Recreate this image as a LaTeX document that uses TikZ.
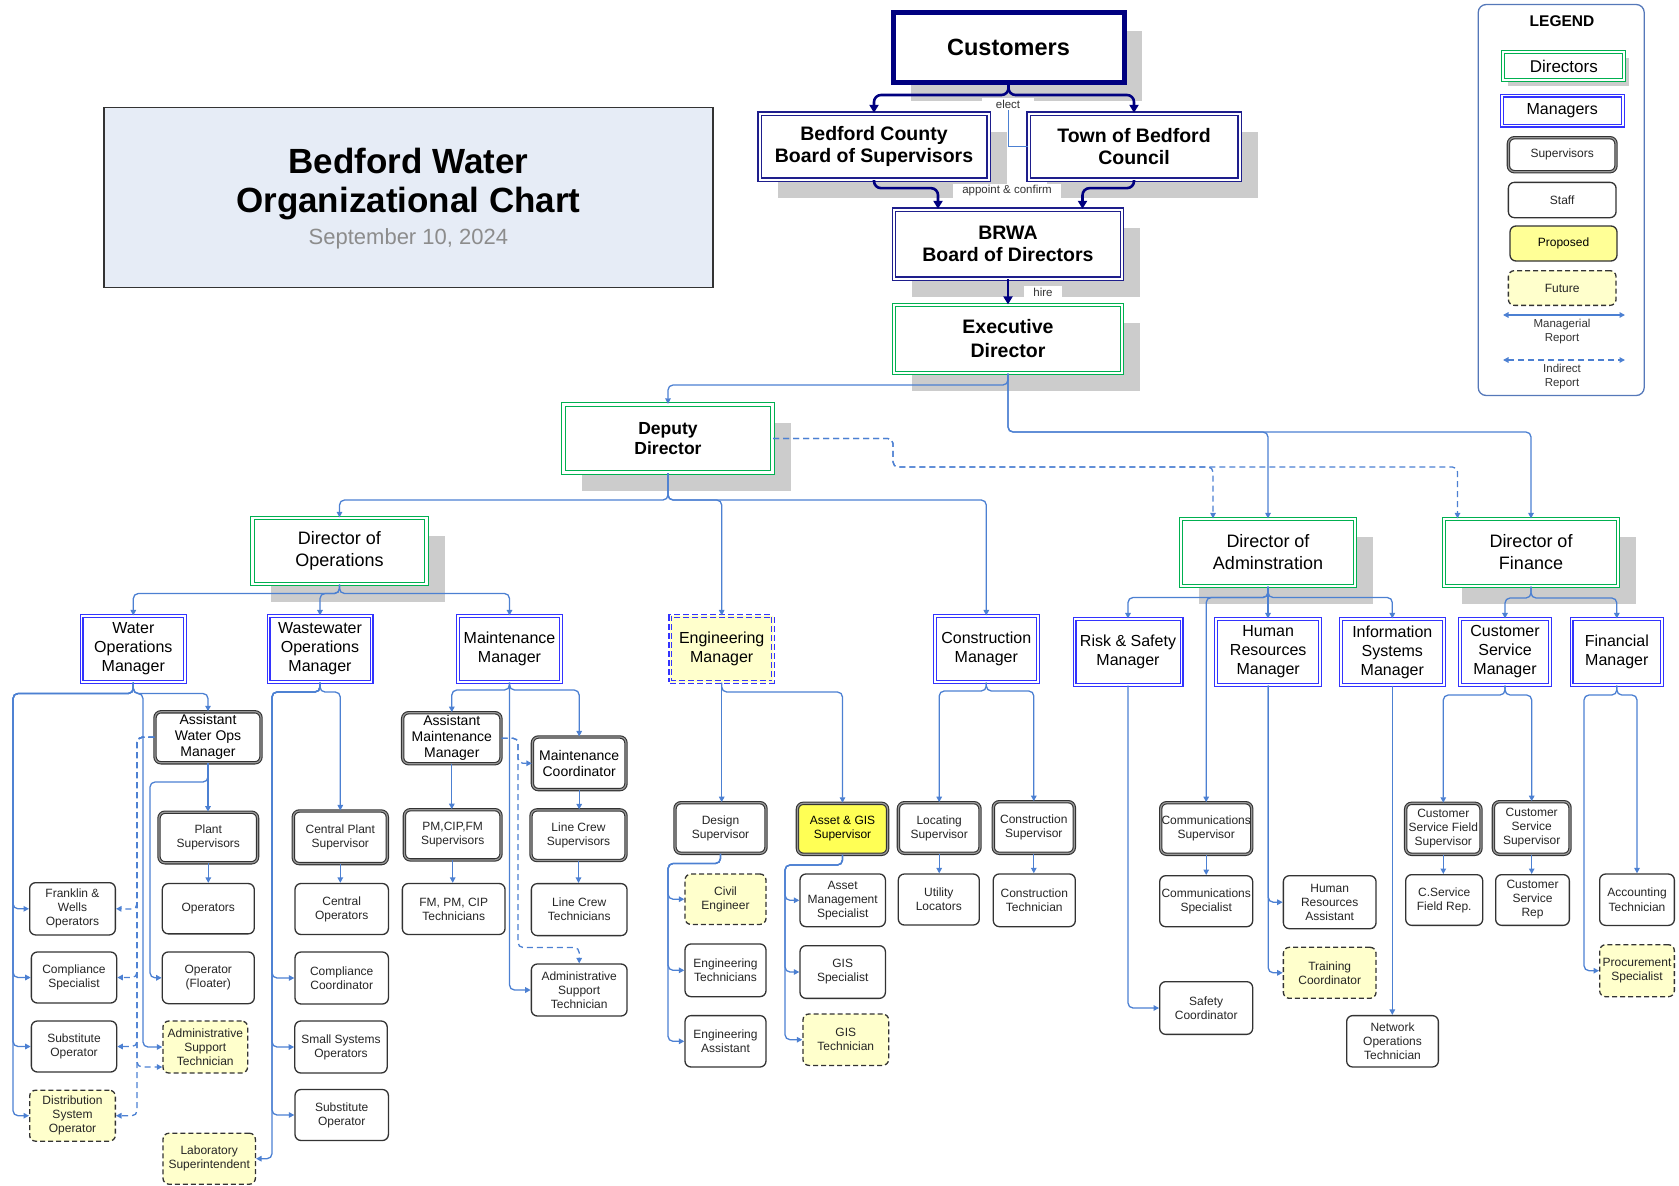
\documentclass[tikz,border=0pt]{standalone}
\usepackage{fontspec}
\setmainfont{Liberation Sans}
\usetikzlibrary{arrows.meta,shadows}

\definecolor{navy}{RGB}{0,0,128}
\definecolor{brdnavy}{RGB}{30,30,140}
\definecolor{mgrblue}{RGB}{51,51,255}
\definecolor{dirgreen}{RGB}{0,176,80}
\definecolor{repblue}{RGB}{76,128,210}
\definecolor{shadowgray}{RGB}{204,204,204}
\definecolor{propyellow}{RGB}{255,255,85}
\definecolor{lgdyellow}{RGB}{255,255,150}
\definecolor{futyellow}{RGB}{255,255,204}
\definecolor{titlefill}{RGB}{230,236,246}
\definecolor{lgdline}{RGB}{85,120,185}

\begin{document}
\begin{tikzpicture}[x=1pt,y=-1pt,>={Triangle[length=5.5pt,width=5.5pt]},
    sz/.style 2 args={minimum width=#1pt,minimum height=#2pt},
    box/.style={rectangle,inner sep=0pt,align=center,fill=white},
    shd/.style={drop shadow={shadow xshift=18pt,shadow yshift=-18pt,fill=shadowgray,opacity=1}},
    cust/.style={box,shd,draw=navy,line width=5pt,font=\bfseries\fontsize{23.5}{28}\selectfont},
    board/.style={box,shd,draw=brdnavy,double=white,double distance=2pt,line width=1.3pt,font=\bfseries\fontsize{19.5}{22.5}\selectfont},
    dir/.style={box,shd,draw=dirgreen,double=white,double distance=2.2pt,line width=1.2pt,font=\fontsize{18}{22}\selectfont},
    mgr/.style={box,draw=mgrblue,double=white,double distance=1.8pt,line width=1.1pt,font=\fontsize{16}{19}\selectfont},
    sup/.style={box,rounded corners=6pt,draw=black!80,double=black!40,double distance=1.2pt,line width=1.1pt,text=black!85,font=\fontsize{12}{14}\selectfont},
    bigsup/.style={sup,text=black,font=\fontsize{14}{16}\selectfont},
    staff/.style={box,rounded corners=6pt,draw=black!80,line width=1.3pt,text=black!85,font=\fontsize{12}{14}\selectfont},
    fut/.style={staff,fill=futyellow,dash pattern=on 5pt off 3pt},
    rep/.style={draw=repblue,line width=1.3pt,rounded corners=5pt,->},
    ind/.style={rep,dash pattern=on 6pt off 4pt},
    tops/.style={draw=navy,line width=2.6pt,rounded corners=7pt,-{Triangle[length=8pt,width=9pt]}},
    lnk/.style={draw=repblue,line width=1pt},
    lbl/.style={fill=white,inner xsep=9pt,inner ysep=2pt,text=black!80,font=\fontsize{11.5}{13}\selectfont},
    lgtxt/.style={align=center,inner sep=0pt,text=black!80,font=\fontsize{11.5}{14}\selectfont}]
\useasboundingbox (0,0) rectangle (1679,1186);

\node[draw=black!80,line width=1.2pt,fill=titlefill,inner sep=0pt,sz={609}{180}] (title) at (408.4,197.8) {};
\node[align=center,font=\bfseries\fontsize{35}{39}\selectfont] (ttl) at (408.4,184) {Bedford Water\\Organizational Chart};
\node[text=black!45,font=\fontsize{22}{26}\selectfont] (tdate) at (408.4,239) {September 10, 2024};

\node[cust,sz={231}{70}] (cust) at (1008.5,47.5) {Customers};
\node[board,sz={229}{66}] (bcbs) at (874,146.5) {Bedford County\\Board of Supervisors};
\node[board,sz={211}{66}] (tobc) at (1134,146.5) {Town of Bedford\\Council};
\node[board,sz={228}{69}] (brwa) at (1008,244) {BRWA\\Board of Directors};
\node[dir,sz={228}{68},font=\bfseries\fontsize{19.5}{24}\selectfont] (exec) at (1008,339) {Executive\\Director};
\node[dir,sz={209}{68},font=\bfseries\fontsize{17.5}{20.5}\selectfont] (deputy) at (668,438.5) {Deputy\\Director};

\node[dir,sz={174}{66}] (dops) at (339.5,551) {Director of\\Operations};
\node[dir,sz={174}{67}] (dadm) at (1268,552.5) {Director of\\Adminstration};
\node[dir,sz={174}{67}] (dfin) at (1531,552.5) {Director of\\Finance};

\node[mgr,sz={103.5}{66}] (wom) at (133.3,649) {Water\\Operations\\Manager};
\node[mgr,sz={103}{66}] (wwom) at (320,649) {Wastewater\\Operations\\Manager};
\node[mgr,sz={103.5}{66}] (mm) at (509.5,649) {Maintenance\\Manager};
\node[mgr,fill=futyellow,double=futyellow,dash pattern=on 6pt off 3pt,sz={102.5}{66}] (em) at (721.7,649) {Engineering\\Manager};
\node[mgr,sz={103}{66}] (cm) at (986.3,649) {Construction\\Manager};
\node[mgr,sz={107}{66}] (rsm) at (1128,652) {Risk \& Safety\\Manager};
\node[mgr,sz={104}{66}] (hrm) at (1268.2,652) {Human\\Resources\\Manager};
\node[mgr,sz={103}{66}] (ism) at (1392.3,652) {Information\\Systems\\Manager};
\node[mgr,sz={90}{66}] (csm) at (1505,652) {Customer\\Service\\Manager};
\node[mgr,sz={90.5}{66}] (fm) at (1616.8,652) {Financial\\Manager};

\node[bigsup,sz={106}{51}] (awom) at (208,737.3) {Assistant\\Water Ops\\Manager};
\node[sup,sz={98.6}{50.6}] (plsup) at (208.3,837.5) {Plant\\Supervisors};
\node[staff,sz={92}{50.3}] (oper) at (208.3,908.7) {Operators};
\node[staff,sz={92}{51.7}] (floater) at (208.3,977.8) {Operator\\(Floater)};
\node[fut,sz={84.7}{52}] (astw) at (205.3,1047) {Administrative\\Support\\Technician};
\node[fut,sz={92.4}{51}] (labsup) at (209.2,1158.7) {Laboratory\\Superintendent};
\node[staff,sz={85.7}{52.3}] (fwo) at (72.5,908.8) {Franklin \&\\Wells\\Operators};
\node[staff,sz={85.3}{51}] (cspec) at (74,977.5) {Compliance\\Specialist};
\node[staff,sz={85.3}{51}] (subop) at (74,1046.5) {Substitute\\Operator};
\node[fut,sz={85.7}{51}] (dso) at (72.5,1115.7) {Distribution\\System\\Operator};

\node[sup,sz={94}{52.6}] (cpsup) at (340.3,837.3) {Central Plant\\Supervisor};
\node[staff,sz={93.4}{51}] (cop) at (341.7,909) {Central\\Operators};
\node[staff,sz={93.4}{52}] (ccoord) at (341.7,978) {Compliance\\Coordinator};
\node[staff,sz={92.4}{52}] (sso) at (341,1047) {Small Systems\\Operators};
\node[staff,sz={93.4}{51}] (subopb) at (341.7,1115) {Substitute\\Operator};

\node[bigsup,sz={98.3}{51}] (amm) at (451.8,738.2) {Assistant\\Maintenance\\Manager};
\node[sup,sz={96.6}{50.2}] (pmsup) at (452.7,834.8) {PM,CIP,FM\\Supervisors};
\node[staff,sz={102.7}{51}] (pmtech) at (453.7,909) {FM, PM, CIP\\Technicians};
\node[bigsup,sz={93.6}{52.6}] (mcoord) at (579.2,763.3) {Maintenance\\Coordinator};
\node[sup,sz={95}{50.6}] (lcsup) at (578.5,835.2) {Line Crew\\Supervisors};
\node[staff,sz={95.7}{52}] (lctech) at (579.2,909.6) {Line Crew\\Technicians};
\node[staff,sz={95.7}{52}] (astm) at (579.2,990) {Administrative\\Support\\Technician};

\node[sup,sz={91}{50.6}] (dsup) at (720.5,828) {Design\\Supervisor};
\node[fut,sz={81}{50.4}] (ceng) at (725.5,899.2) {Civil\\Engineer};
\node[staff,sz={81}{52.7}] (etech) at (725.5,970.3) {Engineering\\Technicians};
\node[staff,sz={81}{51.4}] (eassist) at (725.5,1041.3) {Engineering\\Assistant};
\node[sup,fill=propyellow,text=black,sz={90.2}{51}] (agsup) at (842.5,828.8) {Asset \& GIS\\Supervisor};
\node[staff,sz={85.4}{52.7}] (amspec) at (842.7,900.3) {Asset\\Management\\Specialist};
\node[staff,sz={85.4}{52.7}] (gisspec) at (842.7,972) {GIS\\Specialist};
\node[fut,sz={85.7}{51.4}] (gistech) at (845.8,1039.7) {GIS\\Technician};

\node[sup,sz={81.6}{50.6}] (locsup) at (939.2,828) {Locating\\Supervisor};
\node[staff,sz={81}{51}] (utloc) at (938.8,899.5) {Utility\\Locators};
\node[sup,sz={81}{51.6}] (consup) at (1033.8,827.5) {Construction\\Supervisor};
\node[staff,sz={82}{52.7}] (contech) at (1034.3,900.3) {Construction\\Technician};

\node[sup,sz={91}{51.6}] (commsup) at (1206.2,828.5) {Communications\\Supervisor};
\node[staff,sz={93}{51}] (commspec) at (1206.2,901.2) {Communications\\Specialist};
\node[staff,sz={93}{52.7}] (safety) at (1206.2,1008) {Safety\\Coordinator};
\node[staff,sz={92.7}{53}] (hrasst) at (1329.7,902.2) {Human\\Resources\\Assistant};
\node[fut,sz={92.7}{51}] (trcoord) at (1329.7,972.8) {Training\\Coordinator};
\node[staff,sz={91.7}{51.4}] (nettech) at (1392.5,1041.3) {Network\\Operations\\Technician};

\node[sup,sz={75.3}{51}] (csfsup) at (1443.3,828.8) {Customer\\Service Field\\Supervisor};
\node[staff,sz={77}{50.7}] (csfrep) at (1444.2,900) {C.Service\\Field Rep.};
\node[sup,sz={76.6}{52.6}] (cssup) at (1531.7,828) {Customer\\Service\\Supervisor};
\node[staff,sz={73.7}{50.7}] (csrep) at (1532.5,900) {Customer\\Service\\Rep};
\node[staff,sz={74.7}{51.4}] (acctech) at (1637,899.7) {Accounting\\Technician};
\node[fut,sz={74.7}{52}] (procspec) at (1637,970.7) {Procurement\\Specialist};

\node[draw=lgdline,line width=1.3pt,rounded corners=8pt,inner sep=0pt,sz={166}{391}] (legend) at (1561.2,200) {};
\node[font=\bfseries\fontsize{15.5}{18}\selectfont] (lgdttl) at (1562,21) {LEGEND};
\node[box,draw=dirgreen,double=white,double distance=2pt,line width=1.1pt,drop shadow={shadow xshift=5pt,shadow yshift=-6pt,fill=shadowgray,opacity=1},sz={121}{28},font=\fontsize{17}{20}\selectfont] (lgdir) at (1563.8,66.3) {Directors};
\node[mgr,sz={121}{30}] (lgmgr) at (1562.2,110.5) {Managers};
\node[sup,sz={107.6}{34}] (lgsup) at (1562.2,154.7) {Supervisors};
\node[staff,sz={107.7}{35.3}] (lgstaff) at (1562.2,200) {Staff};
\node[staff,fill=lgdyellow,text=black,sz={107}{35}] (lgprop) at (1563.5,243.5) {Proposed};
\node[fut,sz={107.7}{34.7}] (lgfut) at (1562.2,288) {Future};
\coordinate (lgm1) at (1503,315);
\coordinate (lgm2) at (1625,315);
\coordinate (lgi1) at (1503,360);
\coordinate (lgi2) at (1625,360);
\draw[rep,<->] (lgm1) -- (lgm2);
\draw[ind,<->] (lgi1) -- (lgi2);
\node[lgtxt] (lgmtxt) at (1562,332) {Managerial\\Report};
\node[lgtxt] (lgitxt) at (1562,377) {Indirect\\Report};

\draw[tops] (cust.south) -- ++(0,10) -| (bcbs.north);
\draw[tops] (cust.south) -- ++(0,10) -| (tobc.north);
\draw[tops] (bcbs.south) -- ++(0,8) -| ([xshift=-70pt]brwa.north);
\draw[tops] (tobc.south) -- ++(0,8) -| ([xshift=74.5pt]brwa.north);
\draw[tops] (brwa.south) -- (exec.north);

\node[lbl,inner xsep=14pt] (elect) at (1008,104) {elect};
\node[lbl] (appoint) at (1007,191) {appoint \& confirm};
\node[lbl] (hire) at (1043,292.5) {hire};
\draw[lnk] (elect.south) |- (tobc.west);

\draw[rep] (exec.south) -- (exec.south |- 0,385) -| (deputy.north);
\draw[rep] (exec.south) -- (exec.south |- 0,432) -| (dadm.north);
\draw[rep] (exec.south) -- (exec.south |- 0,432) -| (dfin.north);

\draw[ind] (deputy.east) -| (893,467) -| ([xshift=-55pt]dadm.north);
\draw[ind] (deputy.east) -| (893,467) -| ([xshift=-73.5pt]dfin.north);

\draw[rep] (deputy.south) -- (deputy.south |- 0,500) -| (dops.north);
\draw[rep] (deputy.south) -- (deputy.south |- 0,500) -| (em.north);
\draw[rep] (deputy.south) -- (deputy.south |- 0,500) -| (cm.north);

\draw[rep] (dops.south) -- (dops.south |- 0,593.5) -| (wom.north);
\draw[rep] (dops.south) -- (dops.south |- 0,593.5) -| (wwom.north);
\draw[rep] (dops.south) -- (dops.south |- 0,593.5) -| (mm.north);

\draw[rep] (dadm.south) -- (dadm.south |- 0,597.5) -| (rsm.north);
\draw[rep] (dadm.south) -- (dadm.south |- hrm.north);
\draw[rep] (dadm.south) -- (dadm.south |- 0,597.5) -| (ism.north);
\draw[rep] (dadm.south) -- (dadm.south |- 0,597.5) -| (commsup.north);

\draw[rep] (dfin.south) -- (dfin.south |- 0,598) -| (csm.north);
\draw[rep] (dfin.south) -- (dfin.south |- 0,598) -| (fm.north);

\draw[rep] (wom.south) -- (wom.south |- 0,693.5) -| (awom.north);
\draw[rep] (wom.south) |- (13,693.5) |- (fwo.west);
\draw[rep] (wom.south) |- (13,693.5) |- (cspec.west);
\draw[rep] (wom.south) |- (13,693.5) |- (subop.west);
\draw[rep] (wom.south) |- (13,693.5) |- (dso.west);
\draw[rep] (wom.south) |- (143,693.5) |- (astw.west);
\draw[rep] (awom.south) -- (awom.south |- plsup.north);
\draw[rep] (awom.south) |- (150,782) |- (floater.west);
\draw[rep] (plsup.south) -- (plsup.south |- oper.north);
\draw[ind] (awom.west) -| (137,909) -- (fwo.east);
\draw[ind] (awom.west) -| (137,977.5) -- (cspec.east);
\draw[ind] (awom.west) -| (137,1046.5) -- (subop.east);
\draw[ind] (awom.west) -| (137,1115.7) -- (dso.east);
\draw[ind] (awom.west) -| (137,1067) -- (astw.west |- 0,1067);

\draw[rep] (wwom.south) -- (wwom.south |- 0,692) -| (cpsup.north);
\draw[rep] (wwom.south) |- (272,692) |- (ccoord.west);
\draw[rep] (wwom.south) |- (272,692) |- (sso.west);
\draw[rep] (wwom.south) |- (272,692) |- (subopb.west);
\draw[rep] (wwom.south) |- (272,692) |- (labsup.east);
\draw[rep] (cpsup.south) -- (cpsup.south |- cop.north);

\draw[rep] (mm.south) -- (mm.south |- 0,690) -| (amm.north);
\draw[rep] (mm.south) -- (mm.south |- 0,690) -| (mcoord.north);
\draw[rep] (mm.south) |- (astm.west);
\draw[rep] (amm.south) -- (amm.south |- pmsup.north);
\draw[rep] (pmsup.south) -- (pmsup.south |- pmtech.north);
\draw[rep] (mcoord.south) -- (mcoord.south |- lcsup.north);
\draw[rep] (lcsup.south) -- (lcsup.south |- lctech.north);
\draw[ind] (amm.east) -| (518,763.3) -- (mcoord.west);
\draw[ind] (amm.east) -| (518,947.5) -| (astm.north);

\draw[rep] (em.south) -- (em.south |- dsup.north);
\draw[rep] (em.south) -- (em.south |- 0,692) -| (agsup.north);
\draw[rep] (dsup.south) |- (668,863.5) |- (ceng.west);
\draw[rep] (dsup.south) |- (668,863.5) |- (etech.west);
\draw[rep] (dsup.south) |- (668,863.5) |- (eassist.west);
\draw[rep] (agsup.south) |- (785,865) |- (amspec.west);
\draw[rep] (agsup.south) |- (785,865) |- (gisspec.west);
\draw[rep] (agsup.south) |- (785,865) |- (gistech.west);

\draw[rep] (cm.south) -- (cm.south |- 0,691) -| (locsup.north);
\draw[rep] (cm.south) -- (cm.south |- 0,691) -| (consup.north);
\draw[rep] (locsup.south) -- (locsup.south |- utloc.north);
\draw[rep] (consup.south) -- (consup.south |- contech.north);

\draw[rep] (rsm.south) |- (safety.west);
\draw[rep] (commsup.south) -- (commsup.south |- commspec.north);
\draw[rep] (hrm.south) |- (hrasst.west);
\draw[rep] (hrm.south) |- (trcoord.west);
\draw[rep] (ism.south) -- (ism.south |- nettech.north);

\draw[rep] (csm.south) -- (csm.south |- 0,695) -| (csfsup.north);
\draw[rep] (csm.south) -- (csm.south |- 0,695) -| (cssup.north);
\draw[rep] (csfsup.south) -- (csfsup.south |- csfrep.north);
\draw[rep] (cssup.south) -- (cssup.south |- csrep.north);
\draw[rep] (fm.south) -- (fm.south |- 0,695) -| (acctech.north);
\draw[rep] (fm.south) |- (1584,695) |- (procspec.west);
\end{tikzpicture}
\end{document}
